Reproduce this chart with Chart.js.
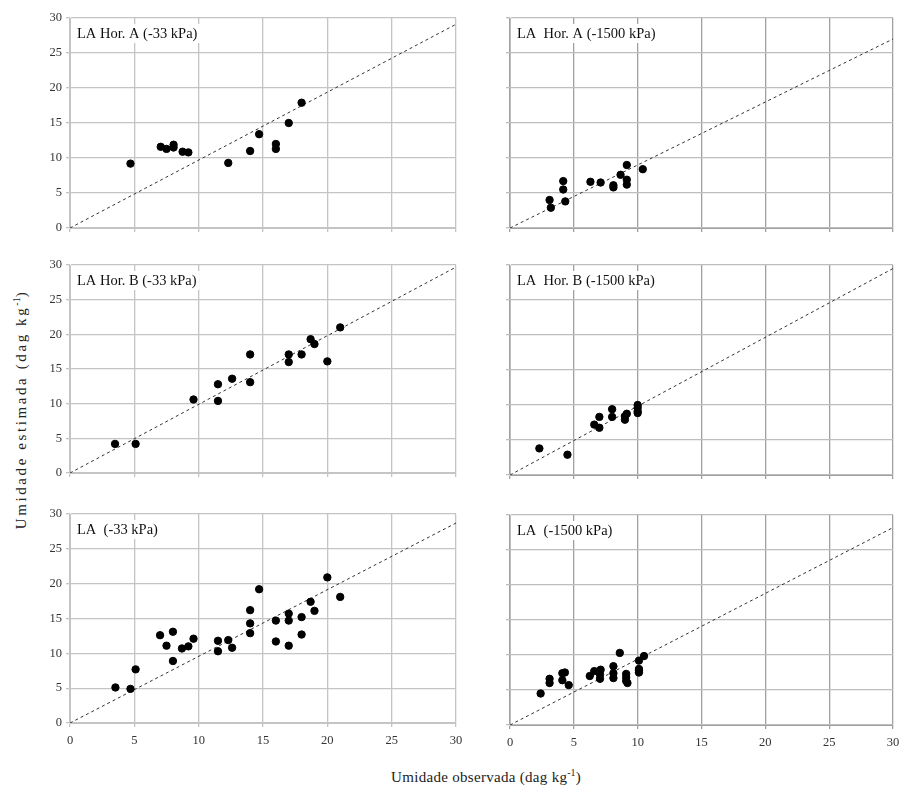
<!DOCTYPE html>
<html>
<head>
<meta charset="utf-8">
<script src="https://cdn.jsdelivr.net/npm/chart.js@4.4.0/dist/chart.umd.min.js"></script>
<style>
  body { margin: 0; background: #fff; width: 902px; height: 792px; position: relative; overflow: hidden; font-family: "Liberation Serif", "DejaVu Serif", serif; }
  .panel { position: absolute; }
  .ytitle { position: absolute; left: -130px; top: 400px; width: 300px; text-align: center; font-size: 15px; letter-spacing: 2.6px; color: #222; transform: rotate(-90deg); white-space: nowrap; }
  .xtitle { position: absolute; left: 336px; top: 767px; width: 300px; text-align: center; font-size: 15px; letter-spacing: 0.3px; color: #222; }
  sup { font-size: 10px; letter-spacing: 0; }
</style>
</head>
<body>
<div class="panel" style="left:40px;top:8px"><canvas id="p1" width="430" height="230"></canvas></div>
<div class="panel" style="left:480px;top:8px"><canvas id="p2" width="422" height="230"></canvas></div>
<div class="panel" style="left:40px;top:255px"><canvas id="p3" width="430" height="228"></canvas></div>
<div class="panel" style="left:480px;top:255px"><canvas id="p4" width="422" height="230"></canvas></div>
<div class="panel" style="left:40px;top:504px"><canvas id="p5" width="430" height="248"></canvas></div>
<div class="panel" style="left:480px;top:505px"><canvas id="p6" width="422" height="249"></canvas></div>
<div class="ytitle">Umidade estimada (dag kg<sup>-1</sup>)</div>
<div class="xtitle">Umidade observada (dag kg<sup>-1</sup>)</div>
<script>
// Hor. A, -33 kPa
const horA33Obs = [4.7, 7.05, 7.5, 8.05, 8.05, 8.75, 9.2, 12.3, 14.0, 14.7, 16.0, 16.0, 17.0, 18.0];
const horA33Est = [9.2, 11.6, 11.3, 11.9, 11.5, 10.9, 10.8, 9.3, 11.0, 13.4, 12.0, 11.3, 15.0, 17.9];
// Hor. A, -1500 kPa
const horA1500Obs = [3.1, 3.2, 4.17, 4.17, 4.33, 6.3, 7.1, 8.1, 8.1, 8.66, 9.15, 9.15, 9.15, 10.4];
const horA1500Est = [4.0, 2.9, 6.7, 5.5, 3.8, 6.6, 6.5, 6.1, 5.8, 7.6, 9.0, 6.9, 6.2, 8.4];
// Hor. B, -33 kPa
const horB33Obs = [3.5, 5.1, 9.6, 11.5, 11.5, 12.6, 14.0, 14.0, 17.0, 17.0, 18.0, 18.7, 19.0, 20.0, 21.0];
const horB33Est = [4.2, 4.2, 10.6, 12.8, 10.4, 13.6, 17.1, 13.1, 17.1, 16.0, 17.1, 19.3, 18.6, 16.1, 21.0];
// Hor. B, -1500 kPa
const horB1500Obs = [2.3, 4.5, 6.6, 7.0, 7.0, 8.0, 8.0, 9.0, 9.0, 9.15, 10.0, 10.0, 10.0, 10.0];
const horB1500Est = [3.8, 2.9, 7.2, 8.3, 6.75, 9.4, 8.3, 7.9, 8.4, 8.75, 10.0, 9.6, 8.85, 9.1];
// LA, -33 kPa
const la33Obs = [3.53, 4.7, 5.1, 7.0, 7.5, 8.0, 8.0, 8.7, 9.2, 9.6, 11.5, 11.5, 12.3, 12.6, 14.0, 14.0, 14.0, 14.7, 16.0, 16.0, 17.0, 17.0, 17.0, 18.0, 18.0, 18.7, 19.0, 20.0, 21.0];
const la33Est = [5.1, 4.9, 7.7, 12.6, 11.1, 13.1, 8.9, 10.7, 11.0, 12.1, 11.8, 10.3, 11.9, 10.8, 16.2, 14.3, 12.9, 19.2, 14.7, 11.7, 15.7, 14.7, 11.1, 15.2, 12.7, 17.4, 16.1, 20.9, 18.1];
// LA, -1500 kPa
const la1500Obs = [2.4, 3.1, 3.1, 4.1, 4.1, 4.3, 4.6, 6.25, 6.6, 7.1, 7.05, 7.05, 8.1, 8.1, 8.1, 8.6, 9.1, 9.1, 9.1, 9.2, 10.1, 10.1, 10.1, 10.1, 10.5];
const la1500Est = [4.5, 6.6, 6.0, 7.4, 6.4, 7.5, 5.7, 7.0, 7.7, 7.9, 6.6, 7.2, 8.4, 7.4, 6.7, 10.3, 7.3, 6.8, 6.3, 6.0, 9.2, 8.0, 7.5, 7.8, 9.85];

// trend line end (y at x = 30)
const lineEnds = [29.1, 27.0, 29.7, 29.5, 28.7, 28.2];
const panelTitles = ["LA Hor. A (-33 kPa)", "LA  Hor. A (-1500 kPa)", "LA Hor. B (-33 kPa)", "LA  Hor. B (-1500 kPa)", "LA  (-33 kPa)", "LA  (-1500 kPa)"];
const tickValues = [0, 5, 10, 15, 20, 25, 30];

const FONT = "'Liberation Serif', 'DejaVu Serif', serif";

const titlePlugin = {
    id: "panelTitle",
    afterDraw(chart, args, opts) {
        const { ctx, chartArea } = chart;
        ctx.save();
        ctx.font = "14.5px " + FONT;
        const w = ctx.measureText(opts.text).width;
        ctx.fillStyle = "#fff";
        ctx.fillRect(chartArea.left + 4, chartArea.top + 6, w + 6, 19);
        ctx.fillStyle = "#111";
        ctx.textBaseline = "alphabetic";
        ctx.fillText(opts.text, chartArea.left + 7, chartArea.top + 20);
        ctx.restore();
    }
};

function zip(xs, ys) {
    return xs.map((x, i) => ({ x, y: ys[i] }));
}

function createPanel(id, obs, est, idx, opt) {
    const ctx = document.getElementById(id).getContext("2d");
    return new Chart(ctx, {
        type: "scatter",
        data: {
            datasets: [
                {
                    data: [{ x: 0, y: 0 }, { x: 30, y: lineEnds[idx] }],
                    showLine: true,
                    borderColor: "#333",
                    borderWidth: 1,
                    borderDash: [3, 3],
                    pointRadius: 0,
                    order: 2
                },
                {
                    data: zip(obs, est),
                    backgroundColor: "#000",
                    borderColor: "#000",
                    pointRadius: 3.7,
                    order: 1
                }
            ]
        },
        options: {
            responsive: false,
            animation: false,
            devicePixelRatio: 1,
            layout: { padding: { top: 10, right: opt.padRight, left: 0, bottom: 0 } },
            plugins: {
                legend: { display: false },
                tooltip: { enabled: false },
                panelTitle: { text: panelTitles[idx] }
            },
            scales: {
                x: {
                    type: "linear",
                    min: 0, max: 30,
                    afterBuildTicks: (s) => { s.ticks = tickValues.map((v) => ({ value: v })); },
                    afterFit: (s) => {
                        s.height = opt.xHeight;
                        s.paddingLeft = 0;
                        s.paddingRight = 0;
                    },
                    ticks: { display: opt.xLabels, color: "#333", font: { family: FONT, size: 12.5 }, padding: 6, maxRotation: 0 },
                    grid: { color: opt.gridX, lineWidth: 1.3, tickLength: 4 },
                    border: { color: opt.gridX }
                },
                y: {
                    type: "linear",
                    min: 0, max: 30,
                    afterBuildTicks: (s) => { s.ticks = tickValues.map((v) => ({ value: v })); },
                    afterFit: (s) => {
                        s.width = 30;
                        s.paddingTop = 0;
                        s.paddingBottom = 0;
                    },
                    ticks: { display: opt.yLabels, color: "#333", font: { family: FONT, size: 12.5 }, padding: 4 },
                    grid: { color: opt.gridY, lineWidth: 1.3, tickLength: 4 },
                    border: { color: opt.gridY }
                }
            }
        },
        plugins: [titlePlugin]
    });
}

const leftOpt = { padRight: 14, yLabels: true, gridX: "#c4c4c4", gridY: "#c4c4c4" };
const rightOpt = { padRight: 9, yLabels: false, gridX: "#a0a0a0", gridY: "#bdbdbd" };

createPanel("p1", horA33Obs, horA33Est, 0, { ...leftOpt, xLabels: false, xHeight: 10 });
createPanel("p2", horA1500Obs, horA1500Est, 1, { ...rightOpt, xLabels: false, xHeight: 10 });
createPanel("p3", horB33Obs, horB33Est, 2, { ...leftOpt, xLabels: false, xHeight: 10 });
createPanel("p4", horB1500Obs, horB1500Est, 3, { ...rightOpt, xLabels: false, xHeight: 10 });
createPanel("p5", la33Obs, la33Est, 4, { ...leftOpt, xLabels: true, xHeight: 29 });
createPanel("p6", la1500Obs, la1500Est, 5, { ...rightOpt, xLabels: true, xHeight: 29 });
</script>
</body>
</html>
